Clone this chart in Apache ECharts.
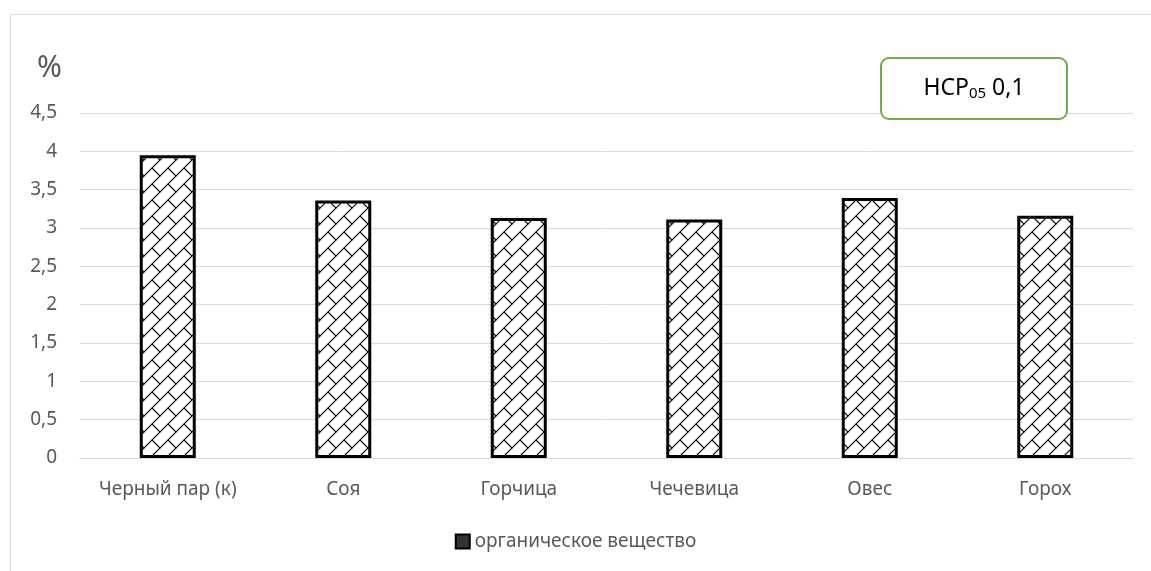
<!DOCTYPE html>
<html>
<head>
<meta charset="utf-8">
<script src="https://cdn.jsdelivr.net/npm/echarts@6/dist/echarts.min.js"></script>
<style>
html,body{margin:0;padding:0;background:#fff;}
#chart{width:1151px;height:571px;}
</style>
</head>
<body>
<div id="chart"></div>
<script>
const categories = ['Черный пар (к)', 'Соя', 'Горчица', 'Чечевица', 'Овес', 'Горох'];
const organicMatter = [3.95, 3.36, 3.13, 3.11, 3.39, 3.16];
const seriesName = 'органическое вещество';
const yTicks = [0, 0.5, 1, 1.5, 2, 2.5, 3, 3.5, 4, 4.5];

function makePattern() {
  const s = 16;
  const c = document.createElement('canvas');
  c.width = s; c.height = s;
  const g = c.getContext('2d');
  g.fillStyle = '#fff';
  g.fillRect(0, 0, s, s);
  g.strokeStyle = '#000';
  g.lineWidth = 1.2;
  g.beginPath();
  g.moveTo(-2, s + 2); g.lineTo(s + 2, -2);
  g.moveTo(-2, 2); g.lineTo(2, -2);
  g.moveTo(s - 2, s + 2); g.lineTo(s + 2, s - 2);
  g.moveTo(s / 2, s / 2); g.lineTo(s + 1, s + 1);
  g.moveTo(-1, -1); g.lineTo(0.5, 0.5);
  g.stroke();
  return c;
}
const pattern = makePattern();

const chart = echarts.init(document.getElementById('chart'), null, {renderer: 'canvas'});
const font = 'Noto Sans';
chart.setOption({
  animation: false,
  textStyle: {fontFamily: font},
  grid: {left: 80, right: 18, top: 113, bottom: 113, containLabel: false},
  xAxis: {
    type: 'category',
    data: categories,
    axisLine: {show: true, lineStyle: {color: '#d9d9d9', width: 1}},
    axisTick: {show: false},
    axisLabel: {color: '#595959', fontSize: 19, margin: 22, interval: 0, fontFamily: font}
  },
  yAxis: {
    type: 'value',
    min: 0, max: 4.5, interval: 0.5,
    name: '%',
    nameLocation: 'end',
    nameGap: 30,
    nameTextStyle: {color: '#595959', fontSize: 30, align: 'right', padding: [0, 18, 0, 0], fontFamily: font},
    axisLine: {show: false},
    axisTick: {show: false},
    splitLine: {lineStyle: {color: '#d9d9d9', width: 1}},
    axisLabel: {
      color: '#595959', fontSize: 19, margin: 23, fontFamily: font,
      formatter: v => { const t = yTicks.find(x => Math.abs(x - v) < 1e-9); return String(t !== undefined ? t : v).replace('.', ','); }
    }
  },
  legend: {
    bottom: 15,
    left: 'center',
    itemWidth: 14, itemHeight: 14,
    itemGap: 6,
    textStyle: {color: '#595959', fontSize: 19, fontFamily: font},
    data: [{name: seriesName, icon: 'rect', itemStyle: {color: '#333', borderColor: '#000', borderWidth: 2}}]
  },
  series: [{
    type: 'bar',
    name: seriesName,
    data: organicMatter,
    barWidth: 56,
    itemStyle: {
      color: {image: pattern, repeat: 'repeat'},
      borderColor: '#000',
      borderWidth: 3
    }
  }],
  graphic: [
    {type: 'rect', shape: {x: 10.5, y: 14.5, width: 1200, height: 700}, style: {fill: 'none', stroke: '#d9d9d9', lineWidth: 1}, silent: true, z: -1},
    {type: 'rect', shape: {x: 881, y: 58, width: 186, height: 61, r: 8}, style: {fill: '#fff', stroke: '#70ad47', lineWidth: 2}, z: 10},
    {type: 'text', x: 974, y: 88, z: 11, style: {
      text: '{a|HCP}{b|05}{a| 0,1}', textAlign: 'center', textVerticalAlign: 'middle',
      rich: {
        a: {fontSize: 23, fontFamily: font, fill: '#000', color: '#000'},
        b: {fontSize: 15, fontFamily: font, fill: '#000', color: '#000', padding: [11, 0, 0, 0]}
      }
    }}
  ]
});
</script>
</body>
</html>
